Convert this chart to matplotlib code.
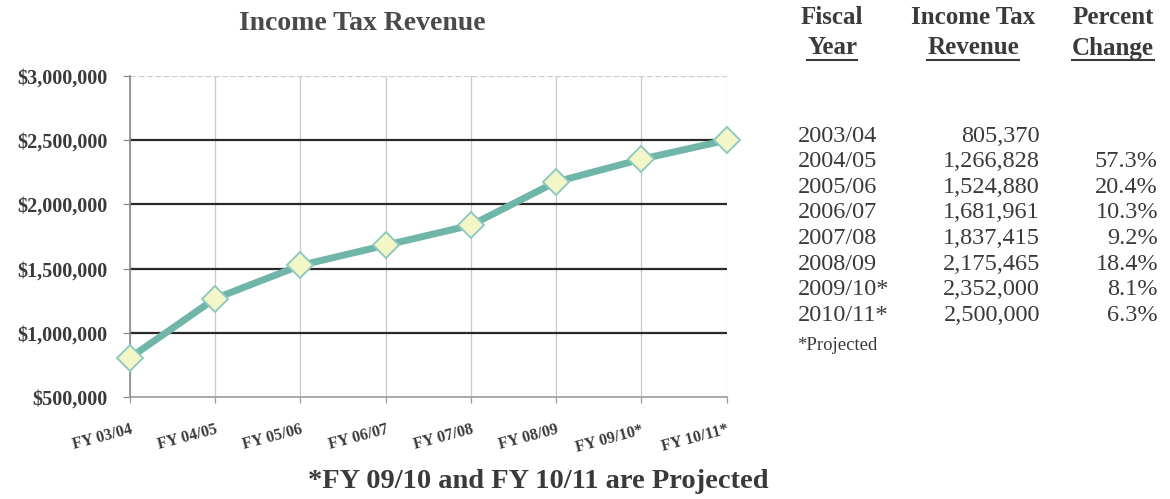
import matplotlib
matplotlib.use("Agg")
import matplotlib.pyplot as plt
from matplotlib.lines import Line2D
from matplotlib.ticker import FuncFormatter

# Data
fy_labels = ["FY 03/04", "FY 04/05", "FY 05/06", "FY 06/07",
             "FY 07/08", "FY 08/09", "FY 09/10*", "FY 10/11*"]
revenue = [805370, 1266828, 1524880, 1681961, 1837415, 2175465, 2352000, 2500000]
table_years = ["2003/04", "2004/05", "2005/06", "2006/07",
               "2007/08", "2008/09", "2009/10*", "2010/11*"]
pct_change = ["", "57.3%", "20.4%", "10.3%", "9.2%", "18.4%", "8.1%", "6.3%"]
y_ticks = [500000, 1000000, 1500000, 2000000, 2500000, 3000000]

SERIF = "Liberation Serif"
TEXT = "#3a3a3a"

fig = plt.figure(figsize=(11.7, 4.99), dpi=100)
fig.patch.set_facecolor("white")

ax = fig.add_axes([0.111, 0.2044, 0.510, 0.6433])
x = list(range(len(revenue)))

# grid
for xv in x:
    ax.axvline(xv, color="#c8c8c8", lw=0.9, zorder=1)
for yv in y_ticks[1:-1]:
    ax.axhline(yv, color="#2a2a2a", lw=1.6, zorder=1)
ax.axhline(y_ticks[-1], color="#cfcfcf", lw=1.0, ls=(0, (4, 2)), zorder=1)

ax.plot(x, revenue, color="#6fb5a8", lw=5, solid_joinstyle="round",
        solid_capstyle="round", zorder=3, clip_on=False)
ax.plot(x, revenue, ls="none", marker="D", ms=13, mfc="#f3f7c8",
        mec="#8fc9c0", mew=1.4, zorder=4, clip_on=False)

ax.set_xlim(0, len(revenue) - 1)
ax.set_ylim(y_ticks[0], y_ticks[-1])
ax.set_yticks(y_ticks)
ax.yaxis.set_major_formatter(FuncFormatter(lambda v, p: f"${v:,.0f}"))
ax.set_xticks(x)
ax.set_xticklabels(fy_labels, rotation=15, ha="right", va="top",
                   rotation_mode="anchor",
                   fontfamily=SERIF, fontweight="bold", fontsize=11.5, color=TEXT)
for lab in ax.get_yticklabels():
    lab.set_fontfamily(SERIF)
    lab.set_fontweight("bold")
    lab.set_fontsize(14.5)
    lab.set_color(TEXT)
ax.tick_params(axis="y", length=5, width=0.9, color="#888888", pad=11)
ax.tick_params(axis="x", length=4, width=0.9, color="#999999", pad=14)
for s in ["top", "right"]:
    ax.spines[s].set_visible(False)
ax.spines["left"].set_color("#8a8a8a")
ax.spines["left"].set_linewidth(1.2)
ax.spines["bottom"].set_color("#9a9a9a")
ax.spines["bottom"].set_linewidth(1.2)

W, H = 1170.0, 499.0


def fx(px):
    return px / W


def fy(py):
    return 1 - py / H


fig.text(fx(362), fy(23), "Income Tax Revenue", ha="center", va="center",
         fontfamily=SERIF, fontweight="bold", fontsize=20, color="#4a4a4a")
fig.text(fx(538), fy(481), "*FY 09/10 and FY 10/11 are Projected", ha="center",
         va="center", fontfamily=SERIF, fontweight="bold", fontsize=20.5,
         color=TEXT)

# Table headers
headers = [(832, "Fiscal", "Year"), (973, "Income Tax", "Revenue"),
           (1113, "Percent", "Change")]
under_texts = []
for cx, l1, l2 in headers:
    fig.text(fx(cx), fy(17), l1, ha="center", va="center", fontfamily=SERIF,
             fontweight="bold", fontsize=18, color=TEXT)
    t = fig.text(fx(cx), fy(48), l2, ha="center", va="center", fontfamily=SERIF,
                 fontweight="bold", fontsize=18, color=TEXT)
    under_texts.append(t)

row_y0, row_dy = 136, 25.6
for i, (yr, rev, pc) in enumerate(zip(table_years, revenue, pct_change)):
    yy = fy(row_y0 + i * row_dy)
    fig.text(fx(798), yy, yr, ha="left", va="center", fontfamily=SERIF,
             fontsize=17.5, color=TEXT)
    fig.text(fx(1040), yy, f"{rev:,}", ha="right", va="center",
             fontfamily=SERIF, fontsize=17.5, color=TEXT)
    if pc:
        fig.text(fx(1158), yy, pc, ha="right", va="center", fontfamily=SERIF,
                 fontsize=17.5, color=TEXT)
fig.text(fx(797), fy(345), "*Projected", ha="left", va="center",
         fontfamily=SERIF, fontsize=13.5, color=TEXT)

# Underline second header line
fig.canvas.draw()
r = fig.canvas.get_renderer()
for t in under_texts:
    bb = t.get_window_extent(renderer=r)
    yline = fy(60)
    fig.add_artist(Line2D([bb.x0 / W, bb.x1 / W], [yline, yline],
                          transform=fig.transFigure, color=TEXT, lw=1.5))

fig.savefig("out.png", dpi=100, facecolor="white")
